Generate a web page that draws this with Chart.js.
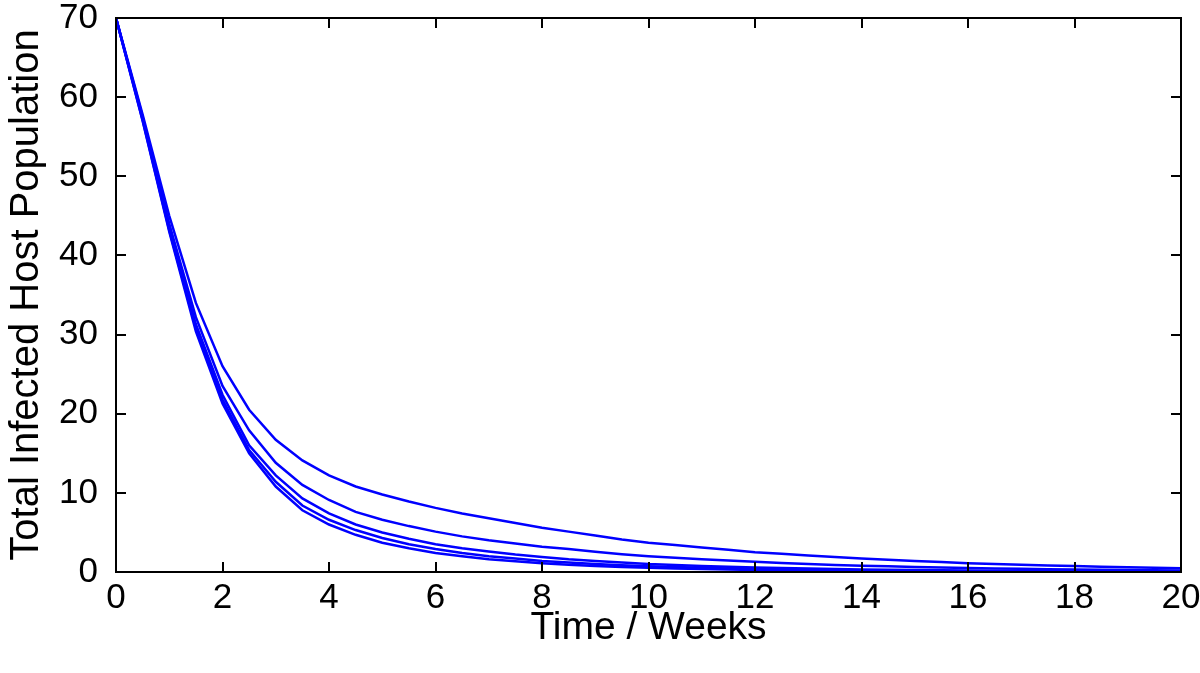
<!DOCTYPE html>
<html>
<head>
<meta charset="utf-8">
<script src="https://cdn.jsdelivr.net/npm/chart.js@4/dist/chart.umd.min.js"></script>
<style>
  html,body{margin:0;padding:0;background:#fff;}
  #wrap{width:1200px;height:673px;}
</style>
</head>
<body>
<div id="wrap"><canvas id="chart" width="1200" height="673"></canvas></div>
<script>
// time points, every half week
const weeks=[0,0.5,1,1.5,2,2.5,3,3.5,4,4.5,5,5.5,6,6.5,7,7.5,8,8.5,9,9.5,10,10.5,11,11.5,12,12.5,13,13.5,14,14.5,15,15.5,16,16.5,17,17.5,18,18.5,19,19.5,20];
// five runs (top curve first)
const run1=[70,57.8,45,34,26,20.5,16.7,14.1,12.2,10.8,9.8,8.9,8.1,7.4,6.8,6.2,5.6,5.1,4.6,4.1,3.7,3.4,3.1,2.8,2.5,2.3,2.1,1.9,1.7,1.55,1.4,1.25,1.1,1.0,0.92,0.83,0.75,0.67,0.6,0.53,0.47];
const run2=[70,57.5,44,32.2,23.5,17.9,13.8,11.0,9.1,7.6,6.6,5.8,5.1,4.5,4.0,3.6,3.2,2.9,2.55,2.25,2.0,1.8,1.6,1.45,1.3,1.15,1.02,0.9,0.8,0.72,0.64,0.57,0.5,0.45,0.4,0.36,0.32,0.28,0.25,0.22,0.2];
const run3=[70,57.3,43.5,31.3,22.4,16.0,12.2,9.3,7.4,6.0,5.0,4.2,3.5,3.0,2.6,2.2,1.9,1.6,1.4,1.2,1.0,0.88,0.77,0.67,0.58,0.5,0.44,0.38,0.33,0.29,0.25,0.22,0.19,0.17,0.15,0.13,0.11,0.1,0.09,0.08,0.07];
const run4=[70,57.1,43.2,30.8,21.8,15.4,11.4,8.4,6.6,5.3,4.3,3.5,2.9,2.4,2.0,1.7,1.4,1.2,1.0,0.85,0.72,0.62,0.53,0.45,0.38,0.33,0.28,0.24,0.2,0.17,0.15,0.13,0.11,0.09,0.08,0.07,0.06,0.05,0.04,0.04,0.03];
const run5=[70,57.0,43.0,30.4,21.3,15.0,10.8,7.8,6.0,4.7,3.7,3.0,2.4,2.0,1.6,1.35,1.1,0.92,0.77,0.64,0.53,0.44,0.37,0.31,0.26,0.22,0.18,0.15,0.12,0.1,0.09,0.07,0.06,0.05,0.04,0.035,0.03,0.025,0.02,0.017,0.015];
const runs=[run1,run2,run3,run4,run5];
const xTicks=[0,2,4,6,8,10,12,14,16,18,20];
const yTicks=[0,10,20,30,40,50,60,70];

const FONT="'Liberation Sans', Arial, Helvetica, sans-serif";

// matlab style box with inward ticks on every side
const boxTicks={
  id:'boxTicks',
  afterDraw(chart){
    const {ctx,chartArea:a,scales}=chart;
    const len=10;
    ctx.save();
    ctx.strokeStyle='#000';
    ctx.lineWidth=2;
    ctx.beginPath();
    xTicks.forEach(v=>{
      const px=Math.round(scales.x.getPixelForValue(v));
      ctx.moveTo(px,a.bottom);ctx.lineTo(px,a.bottom-len);
      ctx.moveTo(px,a.top);ctx.lineTo(px,a.top+len);
    });
    yTicks.forEach(v=>{
      const py=Math.round(scales.y.getPixelForValue(v));
      ctx.moveTo(a.left,py);ctx.lineTo(a.left+len,py);
      ctx.moveTo(a.right,py);ctx.lineTo(a.right-len,py);
    });
    ctx.stroke();
    ctx.strokeRect(a.left,a.top,a.right-a.left,a.bottom-a.top);
    ctx.restore();
  }
};

const datasets=runs.map((r,i)=>({
  label:'run '+(i+1),
  data:weeks.map((w,j)=>({x:w,y:r[j]})),
  borderColor:'#0000ff',
  borderWidth:2.5,
  pointRadius:0,
  fill:false,
  tension:0
}));

new Chart(document.getElementById('chart').getContext('2d'),{
  type:'line',
  data:{datasets},
  plugins:[boxTicks],
  options:{
    responsive:false,
    animation:false,
    layout:{padding:{top:18,right:19,left:0,bottom:0}},
    plugins:{legend:{display:false},tooltip:{enabled:false}},
    scales:{
      x:{
        type:'linear',min:0,max:20,
        afterBuildTicks:s=>{s.ticks=xTicks.map(v=>({value:v}));},
        afterFit:s=>{s.height=101;s.paddingLeft=0;s.paddingRight=0;},
        grid:{display:false},
        border:{display:false},
        ticks:{color:'#000',font:{family:FONT,size:35},padding:-3,maxRotation:0},
        title:{display:true,text:'Time / Weeks',color:'#000',font:{family:FONT,size:39},padding:{top:0,bottom:21}}
      },
      y:{
        type:'linear',min:0,max:70,
        afterBuildTicks:s=>{s.ticks=yTicks.map(v=>({value:v}));},
        afterFit:s=>{s.width=116;s.paddingTop=0;s.paddingBottom=0;},
        grid:{display:false},
        border:{display:false},
        ticks:{color:'#000',font:{family:FONT,size:35},padding:10},
        title:{display:true,text:'Total Infected Host Population',color:'#000',font:{family:FONT,size:40},padding:{top:3,bottom:3}}
      }
    }
  }
});
</script>
</body>
</html>
